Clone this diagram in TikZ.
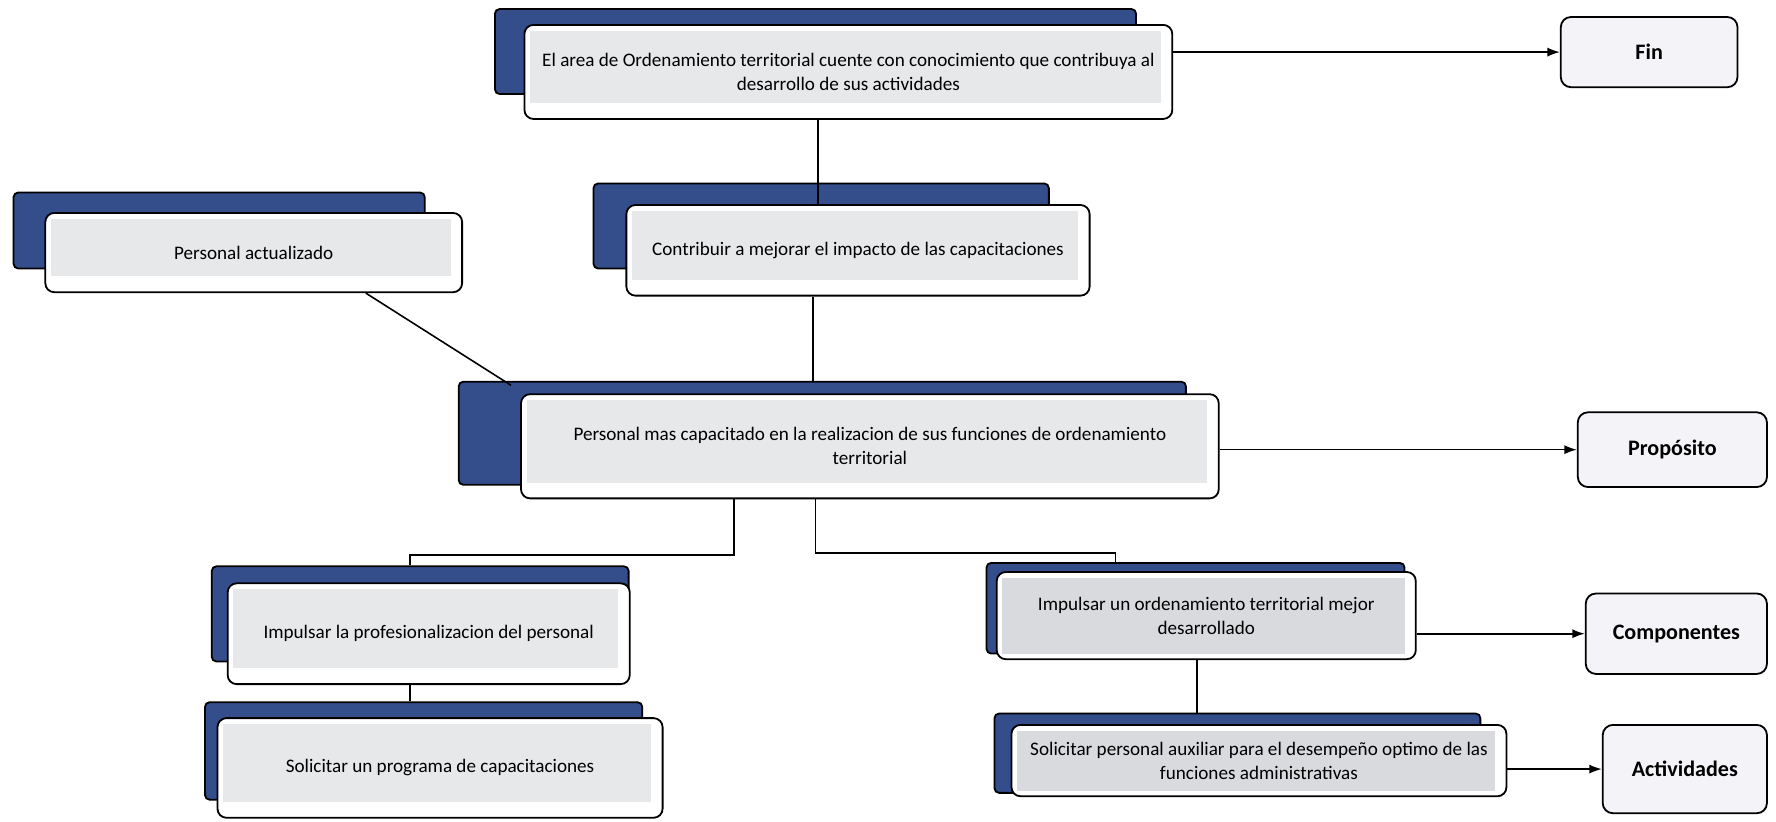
\documentclass[tikz,border=0pt]{standalone}
\usepackage{fontspec}
\setmainfont{Carlito}
\usetikzlibrary{arrows.meta}
\definecolor{navy}{RGB}{52,78,140}
\definecolor{panel}{RGB}{230,232,234}
\definecolor{panelB}{RGB}{216,218,222}
\definecolor{labelfill}{RGB}{244,244,248}
\tikzset{
  backbox/.style={draw=black, line width=1.6pt, fill=navy, rounded corners=4pt, inner sep=0pt},
  frontbox/.style={draw=black, line width=1.6pt, fill=white, rounded corners=8pt, inner sep=0pt,
    align=center, font=\fontsize{16.9}{21}\selectfont,
    path picture={\fill[panel, sharp corners] ([xshift=5pt,yshift=-5pt]path picture bounding box.north west)
      rectangle ([xshift=-10pt,yshift=14pt]path picture bounding box.south east);}},
  frontboxB/.style={frontbox,
    path picture={\fill[panelB, sharp corners] ([xshift=5pt,yshift=-5pt]path picture bounding box.north west)
      rectangle ([xshift=-10pt,yshift=5pt]path picture bounding box.south east);}},
  levelbox/.style={draw=black, line width=1.6pt, fill=labelfill, rounded corners=9pt, inner sep=0pt,
    font=\fontsize{19.5}{23}\selectfont\bfseries},
  conn/.style={draw=black, line width=1.4pt},
  arr/.style={conn, -{Latex[length=11pt,width=8pt]}}
}
\begin{document}
\begin{tikzpicture}[x=1pt,y=-1pt]
\useasboundingbox (0,0) rectangle (1568,725);
% top goal
\node[backbox, minimum width=566pt, minimum height=75pt] (topb) at (720,45.5) {};
\node[frontbox, minimum width=572pt, minimum height=83pt] (topf) at (749,63.5)
  {El area de Ordenamiento territorial cuente con conocimiento que contribuya al\\desarrollo de sus actividades};
\node[levelbox, minimum width=156pt, minimum height=62pt] (fin) at (1456,46) {Fin};
% personal actualizado
\node[backbox, minimum width=363pt, minimum height=67pt] (pab) at (193.5,203.5) {};
\node[frontbox, minimum width=368pt, minimum height=70pt] (paf) at (224,223) {Personal actualizado};
% contribuir
\node[backbox, minimum width=402pt, minimum height=75pt] (cob) at (725,199.5) {};
\node[frontbox, minimum width=409pt, minimum height=80pt] (cof) at (757.5,221)
  {Contribuir a mejorar el impacto de las capacitaciones};
% central
\node[backbox, minimum width=642pt, minimum height=91pt] (ceb) at (726,382.5) {};
\node[frontbox, minimum width=616pt, minimum height=92pt] (cef) at (768,394)
  {Personal mas capacitado en la realizacion de sus funciones de ordenamiento\\territorial};
\node[levelbox, minimum width=167pt, minimum height=66pt] (prop) at (1476.5,397) {Propósito};
% impulsar profesionalizacion
\node[backbox, minimum width=368pt, minimum height=84pt] (ipb) at (371,542) {};
\node[frontbox, minimum width=355pt, minimum height=89pt] (ipf) at (378.5,559.5)
  {Impulsar la profesionalizacion del personal};
% solicitar programa
\node[backbox, minimum width=386pt, minimum height=86pt] (spb) at (374,663) {};
\node[frontbox, minimum width=393pt, minimum height=88pt] (spf) at (388.5,678)
  {Solicitar un programa de capacitaciones};
% impulsar ordenamiento
\node[backbox, minimum width=369pt, minimum height=80pt] (iob) at (1055.5,537) {};
\node[frontboxB, minimum width=370pt, minimum height=77pt] (iof) at (1065,543.5)
  {Impulsar un ordenamiento territorial mejor\\desarrollado};
\node[levelbox, minimum width=160pt, minimum height=71pt] (comp) at (1480,559.5) {Componentes};
% solicitar personal auxiliar
\node[backbox, minimum width=429pt, minimum height=70pt] (sab) at (1092.5,665) {};
\node[frontboxB, minimum width=437pt, minimum height=63pt] (saf) at (1111.5,671.5)
  {Solicitar personal auxiliar para el desempeño optimo de las\\funciones administrativas};
\node[levelbox, minimum width=145pt, minimum height=78pt] (act) at (1487.5,679) {Actividades};
% connector coordinates
\coordinate (xa) at (722,0);
\coordinate (xb) at (718,0);
\coordinate (bl) at (648,490);
\coordinate (bL) at (362,490);
\coordinate (br) at (720,488);
\coordinate (bR) at (985,488);
\coordinate (xc) at (1057,0);
\coordinate (pa1) at ([xshift=99pt]paf.south);
\coordinate (ce1) at ([xshift=47pt,yshift=-4pt]ceb.north west);
% connectors
\draw[conn] (topf.south -| xa) -- (cof.north -| xa);
\draw[conn] (cof.south -| xb) -- (ceb.north -| xb);
\draw[conn] (pa1) -- (ce1);
\draw[conn] (cef.south -| bl) -- (bl) -- (bL) -- (ipb.north -| bL);
\draw[conn] (cef.south -| br) -- (br) -- (bR) -- (iob.north -| bR);
\draw[conn] (ipf.south -| bL) -- (spb.north -| bL);
\draw[conn] (iof.south -| xc) -- (sab.north -| xc);
% arrows
\draw[arr] (topf.east |- fin.west) -- (fin.west);
\draw[arr] (cef.east |- prop.west) -- (prop.west);
\draw[arr] (iof.east |- comp.west) -- (comp.west);
\draw[arr] (saf.east |- act.west) -- (act.west);
\end{tikzpicture}
\end{document}
